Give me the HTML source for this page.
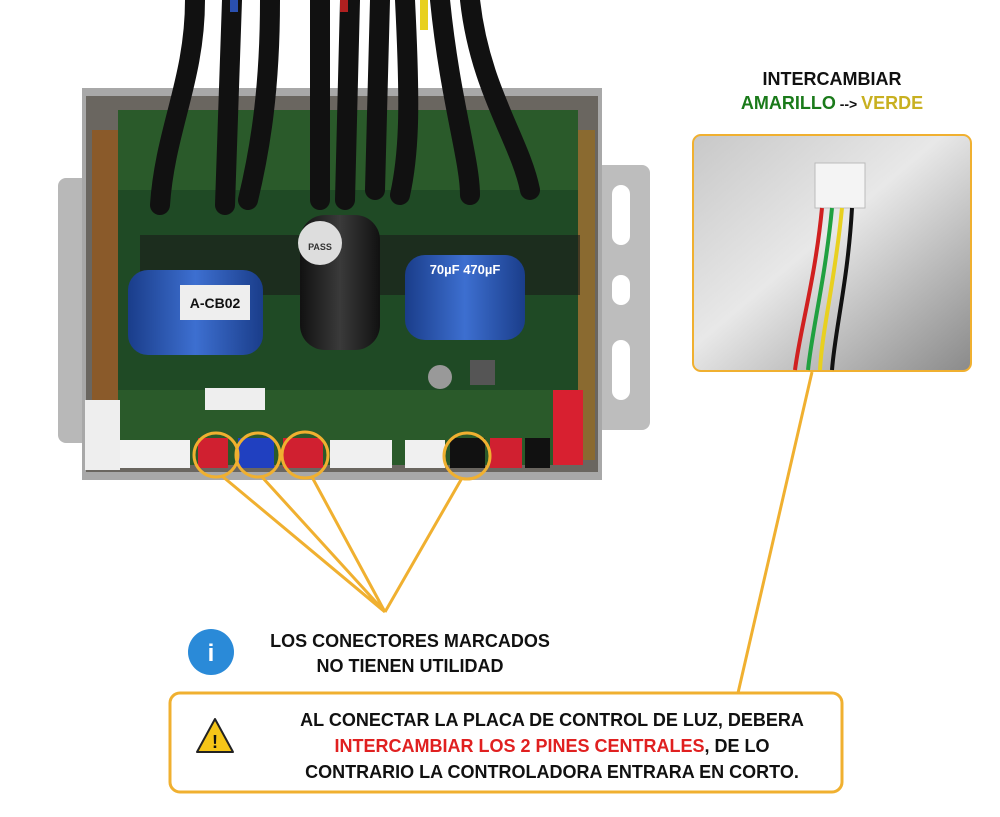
<!DOCTYPE html>
<html><head><meta charset="utf-8"><style>
html,body{margin:0;padding:0;background:#fff;width:1000px;height:817px;overflow:hidden}
svg{display:block}
text{font-family:"Liberation Sans",sans-serif;font-weight:bold}
</style></head><body>
<svg width="1000" height="817" viewBox="0 0 1000 817" xmlns="http://www.w3.org/2000/svg">
<defs>
<linearGradient id="bg2" x1="0" y1="0" x2="1" y2="1"><stop offset="0" stop-color="#c8c8c8"/><stop offset="0.45" stop-color="#e8e8e8"/><stop offset="1" stop-color="#8a8a8a"/></linearGradient>
<linearGradient id="cap" x1="0" x2="1"><stop offset="0" stop-color="#1a3d8a"/><stop offset="0.5" stop-color="#3d6fd0"/><stop offset="1" stop-color="#1a3d8a"/></linearGradient>
<linearGradient id="bcap" x1="0" x2="1"><stop offset="0" stop-color="#111"/><stop offset="0.5" stop-color="#3a3a3a"/><stop offset="1" stop-color="#111"/></linearGradient>
</defs>
<rect x="58" y="178" width="40" height="265" rx="8" fill="#b8b8b8"/>
<rect x="595" y="165" width="55" height="265" rx="8" fill="#bdbdbd"/>
<rect x="612" y="185" width="18" height="60" rx="9" fill="#fff"/>
<rect x="612" y="275" width="18" height="30" rx="9" fill="#fff"/>
<rect x="612" y="340" width="18" height="60" rx="9" fill="#fff"/>
<rect x="82" y="88" width="520" height="392" fill="#a8a8a8"/>
<rect x="86" y="96" width="512" height="376" fill="#6a6660"/>
<rect x="92" y="130" width="30" height="330" fill="#8a5a2a"/>
<rect x="565" y="130" width="30" height="330" fill="#8a6a30"/>
<rect x="118" y="110" width="460" height="355" fill="#2a5a2a"/>
<rect x="118" y="190" width="460" height="200" fill="#1f4a25"/>
<rect x="140" y="235" width="440" height="60" fill="#1a1a1a" opacity="0.6"/>
<g stroke="#111" stroke-width="20" fill="none" stroke-linecap="round">
<path d="M195 0 C195 80 165 130 160 205"/>
<path d="M232 0 L225 205"/>
<path d="M270 0 C270 90 260 150 248 200"/>
<path d="M320 0 L320 200"/>
<path d="M350 0 L345 200"/>
<path d="M380 0 L375 190"/>
<path d="M405 0 C410 100 410 150 400 195"/>
<path d="M440 0 C450 100 470 160 470 195"/>
<path d="M470 0 C480 90 520 140 530 190"/>
</g>
<rect x="230" y="0" width="8" height="12" fill="#2a50b0"/>
<rect x="340" y="0" width="8" height="12" fill="#b02020"/>
<rect x="420" y="0" width="8" height="30" fill="#e8d020"/>
<rect x="128" y="270" width="135" height="85" rx="20" fill="url(#cap)"/>
<rect x="180" y="285" width="70" height="35" fill="#eee"/>
<text x="215" y="308" font-size="14" text-anchor="middle" fill="#111">A-CB02</text>
<rect x="300" y="215" width="80" height="135" rx="25" fill="url(#bcap)"/>
<circle cx="320" cy="243" r="22" fill="#ddd"/>
<text x="320" y="250" font-size="9" text-anchor="middle" fill="#333">PASS</text>
<rect x="405" y="255" width="120" height="85" rx="20" fill="url(#cap)"/>
<text x="465" y="274" font-size="13" text-anchor="middle" fill="#fff">70µF 470µF</text>
<rect x="470" y="360" width="25" height="25" fill="#555"/>
<circle cx="440" cy="377" r="12" fill="#999"/>
<rect x="205" y="388" width="60" height="22" fill="#eee"/>
<rect x="85" y="400" width="35" height="70" fill="#eee"/>
<rect x="120" y="440" width="70" height="28" fill="#f2f2f2"/>
<rect x="198" y="438" width="30" height="30" fill="#d02030"/>
<rect x="238" y="438" width="36" height="30" fill="#2040c0"/>
<rect x="283" y="438" width="40" height="30" fill="#d02030"/>
<rect x="330" y="440" width="62" height="28" fill="#f0f0f0"/>
<rect x="405" y="440" width="40" height="28" fill="#f0f0f0"/>
<rect x="450" y="438" width="35" height="30" fill="#111"/>
<rect x="490" y="438" width="32" height="30" fill="#d02030"/>
<rect x="525" y="438" width="25" height="30" fill="#111"/>
<rect x="553" y="390" width="30" height="75" fill="#d82030"/>
<g stroke="#f0b030" stroke-width="3" fill="none">
<circle cx="216" cy="455" r="22"/>
<circle cx="258" cy="455" r="22"/>
<circle cx="305" cy="455" r="23"/>
<circle cx="467" cy="456" r="23"/>
<path d="M222 476 L385 612 M262 477 L385 612 M312 477 L385 612 M462 478 L385 612"/>
<path d="M812 372 L738 693"/>
</g>
<rect x="693" y="135" width="278" height="236" rx="8" fill="url(#bg2)" stroke="#f0b030" stroke-width="2"/>
<rect x="815" y="163" width="50" height="45" fill="#f4f4f4" stroke="#bbb"/>
<g stroke-width="4" fill="none">
<path d="M822 208 C815 280 800 330 795 370" stroke="#d02020"/>
<path d="M832 208 C825 280 812 330 808 370" stroke="#20a040"/>
<path d="M842 208 C835 280 822 330 820 370" stroke="#e8d020"/>
<path d="M852 208 C848 280 835 330 832 370" stroke="#111"/>
</g>
<text x="832" y="85" font-size="18" text-anchor="middle" fill="#111">INTERCAMBIAR</text>
<text x="832" y="109" font-size="18" text-anchor="middle"><tspan fill="#1a7a1a">AMARILLO</tspan><tspan fill="#111" font-size="14"> --&gt; </tspan><tspan fill="#c8b020">VERDE</tspan></text>
<circle cx="211" cy="652" r="23" fill="#2a8ad8"/>
<text x="211" y="661" font-size="24" text-anchor="middle" fill="#fff">i</text>
<text x="410" y="647" font-size="18" text-anchor="middle" fill="#111">LOS CONECTORES MARCADOS</text>
<text x="410" y="672" font-size="18" text-anchor="middle" fill="#111">NO TIENEN UTILIDAD</text>
<rect x="170" y="693" width="672" height="99" rx="10" fill="#fff" stroke="#f0b030" stroke-width="3"/>
<path d="M215 719 L233 752 L197 752 Z" fill="#f5c518" stroke="#222" stroke-width="2" stroke-linejoin="round"/>
<text x="215" y="748" font-size="18" text-anchor="middle" fill="#111">!</text>
<text x="552" y="726" font-size="18" text-anchor="middle" fill="#111">AL CONECTAR LA PLACA DE CONTROL DE LUZ, DEBERA</text>
<text x="552" y="752" font-size="18" text-anchor="middle" fill="#111"><tspan fill="#e02020">INTERCAMBIAR LOS 2 PINES CENTRALES</tspan>, DE LO</text>
<text x="552" y="778" font-size="18" text-anchor="middle" fill="#111">CONTRARIO LA CONTROLADORA ENTRARA EN CORTO.</text>
</svg>
</body></html>
